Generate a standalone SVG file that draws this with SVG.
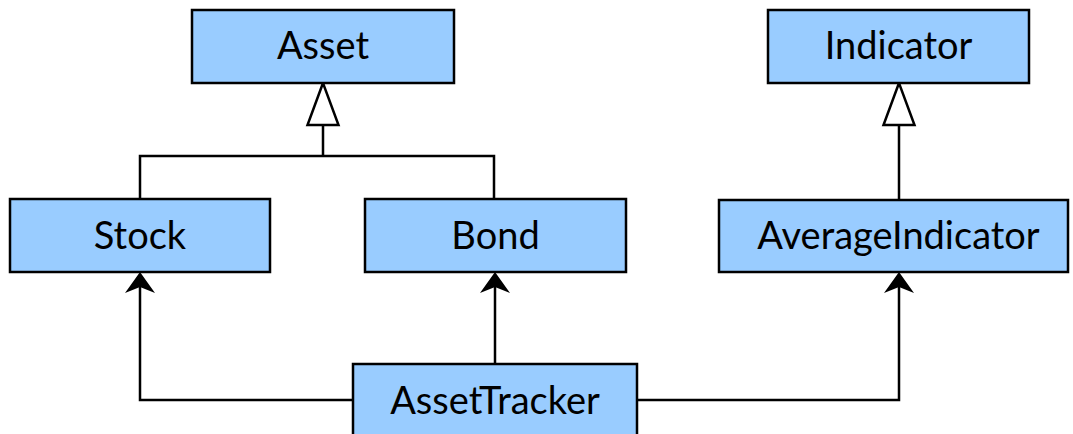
<svg xmlns="http://www.w3.org/2000/svg" width="1073" height="434" viewBox="0 0 1073 434">
  <style>
    .box { fill: #99ccff; stroke: #000; stroke-width: 2.5; }
    .lbl { font-family: Lato, "Liberation Sans", sans-serif; font-size: 38px; fill: #000; text-anchor: middle; }
    .wire { fill: none; stroke: #000; stroke-width: 2.5; }
    .hollow { fill: #fff; stroke: #000; stroke-width: 2.5; }
    .solid { fill: #000; stroke: none; }
  </style>
  <rect width="1073" height="434" fill="#fff"/>

  <!-- connectors -->
  <g id="connectors">
    <!-- generalization: Stock / Bond -> Asset -->
    <path class="wire" d="M140 199 V156 H494 V199 M323 156 V125"/>
    <polygon class="hollow" points="323,83 307.5,125 338.5,125"/>
    <!-- generalization: AverageIndicator -> Indicator -->
    <path class="wire" d="M899 200 V125"/>
    <polygon class="hollow" points="899,83 883.5,125 914.5,125"/>
    <!-- associations from AssetTracker -->
    <path class="wire" d="M353 400 H140 V285"/>
    <path class="wire" d="M495 364 V285"/>
    <path class="wire" d="M637 400 H899 V285"/>
    <polygon class="solid" points="140,272 155,293 140,287 125,293"/>
    <polygon class="solid" points="495,272 510,293 495,287 480,293"/>
    <polygon class="solid" points="899,272 914,293 899,287 884,293"/>
  </g>

  <g id="asset">
    <rect class="box" x="192" y="10" width="262" height="73"/>
    <text class="lbl" x="323" y="58.5">Asset</text>
  </g>
  <g id="indicator">
    <rect class="box" x="768" y="10" width="261" height="73"/>
    <text class="lbl" x="898.5" y="58.5">Indicator</text>
  </g>
  <g id="stock">
    <rect class="box" x="10" y="199" width="260" height="73"/>
    <text class="lbl" x="140" y="248.5">Stock</text>
  </g>
  <g id="bond">
    <rect class="box" x="365" y="199" width="261" height="73"/>
    <text class="lbl" x="495.5" y="248.5">Bond</text>
  </g>
  <g id="average-indicator">
    <rect class="box" x="719" y="200" width="349" height="72"/>
    <text class="lbl" x="898.5" y="248.5">AverageIndicator</text>
  </g>
  <g id="asset-tracker">
    <rect class="box" x="353" y="364" width="284" height="80"/>
    <text class="lbl" x="495" y="413.5">AssetTracker</text>
  </g>
</svg>
